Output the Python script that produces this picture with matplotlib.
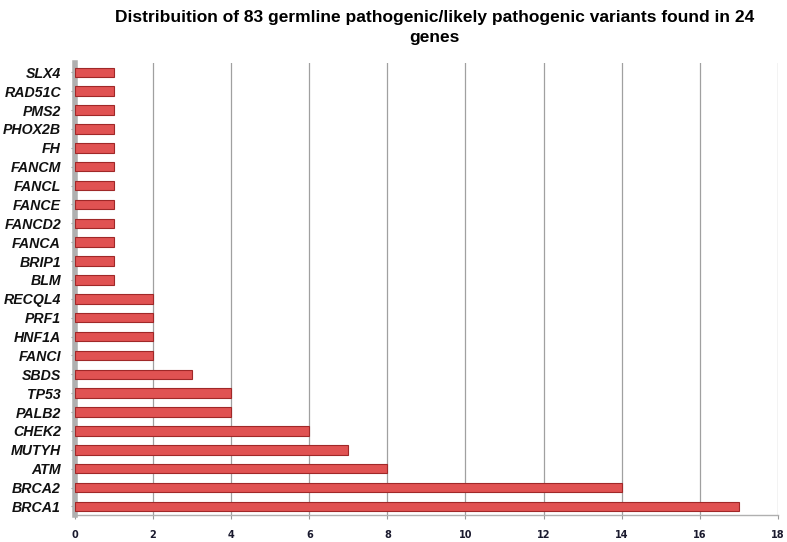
import matplotlib
matplotlib.use("Agg")
import matplotlib.pyplot as plt

genes = ["BRCA1", "BRCA2", "ATM", "MUTYH", "CHEK2", "PALB2", "TP53", "SBDS",
         "FANCI", "HNF1A", "PRF1", "RECQL4", "BLM", "BRIP1", "FANCA", "FANCD2",
         "FANCE", "FANCL", "FANCM", "FH", "PHOX2B", "PMS2", "RAD51C", "SLX4"]
counts = [17, 14, 8, 7, 6, 4, 4, 3, 2, 2, 2, 2, 1, 1, 1, 1, 1, 1, 1, 1, 1, 1, 1, 1]
xticks = list(range(0, 19, 2))
title = "Distribuition of 83 germline pathogenic/likely pathogenic variants found in 24\ngenes"

fig = plt.figure(figsize=(7.87, 5.42), dpi=100)
ax = fig.add_axes([0.0953, 0.05, 0.893, 0.834])

y = list(range(len(genes)))
ax.barh(y, counts, height=0.5, color="#E05252", edgecolor="#A02828", linewidth=0.8, zorder=3)

ax.set_xlim(0, 18)
ax.set_ylim(-0.45, 23.5)
ax.set_xticks(xticks)
ax.set_xticklabels([str(t) for t in xticks], fontsize=7, fontweight="bold",
                   family="DejaVu Sans", color="#1a1a2e")
ax.set_yticks(y)
ax.set_yticklabels(genes, fontsize=10.2, fontweight="bold", style="italic",
                   family="Liberation Sans", color="#111111")
ax.grid(axis="x", color="#a0a0a0", linewidth=0.9, zorder=0)
ax.tick_params(axis="y", length=3, color="#999999", pad=7)
ax.tick_params(axis="x", length=3, color="#999999", pad=8)
for s in ["top", "right"]:
    ax.spines[s].set_visible(False)
ax.spines["left"].set_color("#b0b0b0")
ax.spines["left"].set_linewidth(4)
ax.spines["bottom"].set_color("#b0b0b0")
ax.spines["bottom"].set_linewidth(1)

fig.text(0.552, 0.982, title, ha="center", va="top", fontsize=12.5,
         fontweight="bold", family="Liberation Sans", linespacing=1.45)

fig.savefig("out.png", dpi=100)
